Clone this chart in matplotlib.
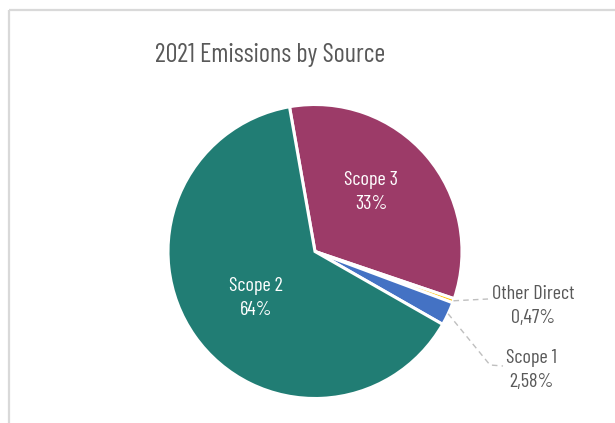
import matplotlib
matplotlib.use("Agg")
import matplotlib.pyplot as plt
import numpy as np

categories = ["Scope 3", "Other Direct", "Scope 1", "Scope 2"]
values = [33.0, 0.47, 2.58, 64.0]
value_labels = ["33%", "0,47%", "2,58%", "64%"]
colors = ["#9C3B68", "#FFC000", "#4472C4", "#217D74"]
title = "2021 Emissions by Source"

plt.rcParams["font.family"] = ["Barlow Condensed", "DejaVu Sans"]

W, H = 615, 423
fig = plt.figure(figsize=(W / 100, H / 100), dpi=100)
ax = fig.add_axes([0, 0, 1, 1])

cx, cy, r = 315, H - 251.5, 147
wedges, _ = ax.pie(values, colors=colors, startangle=100, counterclock=False,
                   center=(cx, cy), radius=r, frame=True,
                   wedgeprops=dict(edgecolor="white", linewidth=2.2))
ax.set_xlim(0, W)
ax.set_ylim(0, H)
ax.set_aspect("equal")
ax.axis("off")

# frame (partially visible)
ax.plot([8.5, W + 5], [H - 9.5, H - 9.5], color="#D9D9D9", lw=1.6, solid_capstyle="butt")
ax.plot([8.5, 8.5], [-5, H - 9.5], color="#D9D9D9", lw=1.6, solid_capstyle="butt")

ax.text(270, H - 55, title, ha="center", va="center", fontsize=19, color="#595959")

tc = "#595959"
fs = 14.5
ls = 1.45
ax.text(371, H - 192, f"{categories[0]}\n{value_labels[0]}", ha="center", va="center",
        fontsize=fs, color="white", linespacing=ls)
ax.text(256, H - 298, f"{categories[3]}\n{value_labels[3]}", ha="center", va="center",
        fontsize=fs, color="white", linespacing=ls)

def rim(w, frac=1.0):
    a = np.deg2rad((w.theta1 + w.theta2) / 2)
    return cx + r * frac * np.cos(a), cy + r * frac * np.sin(a)

x0, y0 = rim(wedges[1], 1.0)
ax.plot([x0, 488], [y0, H - 299], color="#BFBFBF", lw=1, ls=(0, (4, 3)))
ax.text(533.5, H - 306, f"{categories[1]}\n{value_labels[1]}", ha="center", va="center",
        fontsize=fs, color=tc, linespacing=ls)

x1, y1 = rim(wedges[2], 1.0)
ax.plot([x1, 490, 503], [y1, H - 365, H - 366], color="#BFBFBF", lw=1, ls=(0, (4, 3)))
ax.text(531.5, H - 370, f"{categories[2]}\n{value_labels[2]}", ha="center", va="center",
        fontsize=fs, color=tc, linespacing=ls)

fig.savefig("out.png", dpi=100)
